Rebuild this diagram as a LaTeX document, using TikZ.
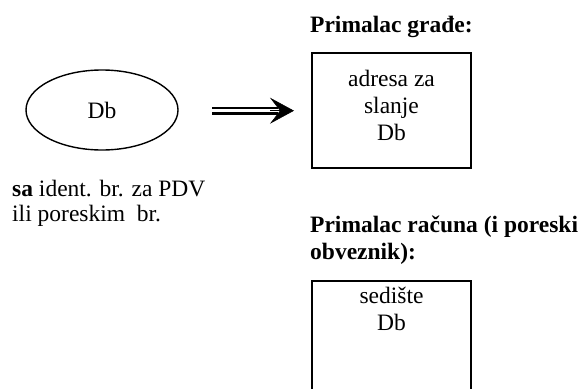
\documentclass[tikz,border=0pt]{standalone}
\usepackage{fontspec}
\setmainfont{Liberation Serif}
\usetikzlibrary{shapes.geometric,arrows.meta,positioning}
\tikzset{
    box/.style={draw=black, line width=2pt, minimum width=159pt, minimum height=115pt, align=center, inner sep=0pt},
    oval/.style={ellipse, draw=black, line width=1.4pt, minimum width=152pt, minimum height=80pt, inner sep=0pt},
    heading/.style={font=\fontsize{23.5}{27}\selectfont\bfseries, align=left, inner sep=0pt},
    plaintext/.style={align=left, inner sep=0pt},
    dblline/.style={double, draw=black, line width=2.5pt, double distance=3pt},
    bigtip/.style={-{Stealth[length=24pt,width=26pt,inset=10pt]}, line width=0.5pt},
}

\begin{document}
\begin{tikzpicture}[x=1pt,y=-1pt,font=\fontsize{23.5}{27}\selectfont]
		\useasboundingbox (0,0) rectangle (586,388);
		\clip (0,0) rectangle (586,388);
		% The sender
		\node[oval] (db) at (102,110) {Db};
		\node[plaintext, anchor=north west, font=\fontsize{23.5}{25}\selectfont] (pdv) at (12,180) {\textbf{sa} ident. br. za PDV\\ili poreskim\ \ br.};
		% The double arrow
		\coordinate (arrs) at (212,110.7);
		\coordinate (arre) at (294,110.7);
		\draw[dblline, shorten >=16pt] (arrs) -- (arre);
		\draw[bigtip, shorten <=58pt] (arrs) -- (arre);
		% Receiver of the goods
		\node[heading, anchor=base west] (hgr) at (310,32) {Primalac građe:};
		\node[box] (adr) at (391.5,110.5) {adresa za\\slanje\\Db\\[-17pt]};
		% Receiver of the invoice
		\node[heading, anchor=north west] (hrc) at (310,216) {Primalac računa (i poreski\\obveznik):};
		\node[box, minimum height=140pt, anchor=north] (sedbox) at (391.5,280) {};
		\node[plaintext, align=center, anchor=north] (sed) at (391.5,287) {sedište\\Db};
\end{tikzpicture}
\end{document}
